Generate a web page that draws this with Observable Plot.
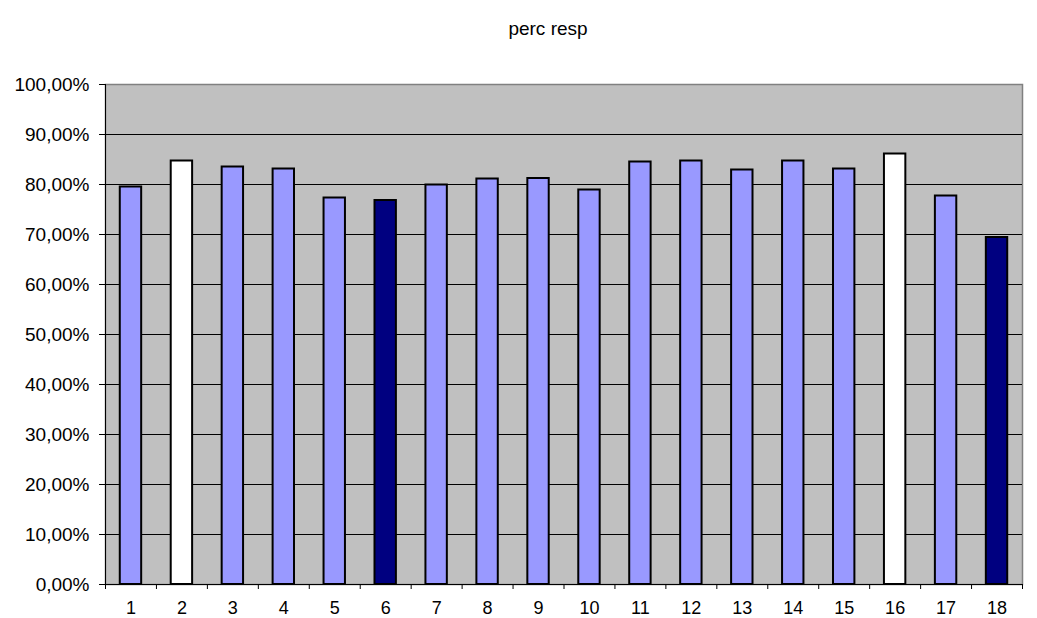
<!DOCTYPE html>
<html>
<head>
<meta charset="utf-8">
<script src="https://cdn.jsdelivr.net/npm/d3@7"></script>
<script src="https://cdn.jsdelivr.net/npm/@observablehq/plot@0.6"></script>
<style>
  html, body { margin: 0; padding: 0; background: #fff; }
  svg { display: block; }
</style>
</head>
<body>
<div id="chart"></div>
<script>
const title = "perc resp";
const categories = [1, 2, 3, 4, 5, 6, 7, 8, 9, 10, 11, 12, 13, 14, 15, 16, 17, 18];
const values = [0.795, 0.847, 0.835, 0.831, 0.773, 0.768, 0.799, 0.811, 0.812, 0.789, 0.845, 0.847, 0.829, 0.847, 0.831, 0.861, 0.777, 0.694];
const groups = ["a", "b", "a", "a", "a", "c", "a", "a", "a", "a", "a", "a", "a", "a", "a", "b", "a", "c"];
const yTicks = [0, 0.1, 0.2, 0.3, 0.4, 0.5, 0.6, 0.7, 0.8, 0.9, 1.0];
const gridTicks = [0.1, 0.2, 0.3, 0.4, 0.5, 0.6, 0.7, 0.8, 0.9];
const xBoundaries = [0.5, 1.5, 2.5, 3.5, 4.5, 5.5, 6.5, 7.5, 8.5, 9.5, 10.5, 11.5, 12.5, 13.5, 14.5, 15.5, 16.5, 17.5, 18.5];

const data = categories.map((c, i) => ({cat: c, value: values[i], group: groups[i]}));
const halfBar = 0.21;
const fmt = d => (d * 100).toFixed(2).replace(".", ",") + "%";

const chart = Plot.plot({
  width: 1037,
  height: 618,
  marginLeft: 105,
  marginRight: 15,
  marginTop: 84,
  marginBottom: 34,
  style: {fontFamily: "'Liberation Sans', Arial, sans-serif", background: "#fff", color: "#000"},
  x: {type: "linear", domain: [0.5, 18.5]},
  y: {domain: [0, 1]},
  color: {domain: ["a", "b", "c"], range: ["#9999FF", "#FFFFFF", "#000080"]},
  marks: [
    Plot.frame({fill: "#C0C0C0", stroke: "#808080", strokeWidth: 1.5}),
    Plot.ruleY(gridTicks, {stroke: "#000", strokeWidth: 1}),
    Plot.rectY(data, {
      x1: d => d.cat - halfBar,
      x2: d => d.cat + halfBar,
      y: "value",
      fill: "group",
      stroke: "#000",
      strokeWidth: 2
    }),
    Plot.ruleX([0.5], {stroke: "#000", strokeWidth: 1}),
    Plot.ruleY([0], {stroke: "#000", strokeWidth: 1}),
    Plot.axisY({ticks: yTicks, tickFormat: fmt, tickSize: 6, tickPadding: 10, fontSize: 19, label: null}),
    Plot.axisX({ticks: xBoundaries, tickFormat: () => "", tickSize: 5, label: null}),
    Plot.axisX({ticks: categories, tickFormat: d => String(d), tickSize: 0, tickPadding: 17, fontSize: 18, lineAnchor: "top", label: null}),
    Plot.text([title], {frameAnchor: "top", dx: -16, dy: -63, fontSize: 19, fill: "#000"})
  ]
});
document.getElementById("chart").appendChild(chart);
</script>
</body>
</html>
